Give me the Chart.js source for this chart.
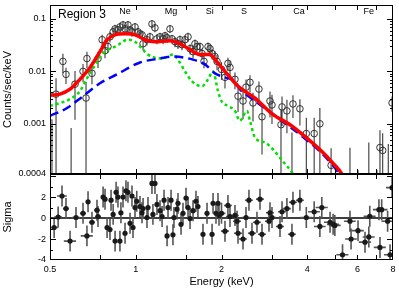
<!DOCTYPE html>
<html>
<head>
<meta charset="utf-8">
<script src="https://cdn.jsdelivr.net/npm/chart.js@4.4.1/dist/chart.umd.min.js"></script>
<style>
  html, body { margin: 0; padding: 0; background: #fff; }
  #wrap { position: relative; width: 399px; height: 291px; overflow: hidden; }
  canvas { position: absolute; left: 0; }
  #spec { top: 0; }
  #resid { top: 164px; }
</style>
</head>
<body>
<div id="wrap">
  <canvas id="spec" width="399" height="186"></canvas>
  <canvas id="resid" width="399" height="127"></canvas>
</div>
<script>
// ---- spectrum (upper panel): bin energy (keV), rate (counts/s/keV), 1-sigma error
const energy = [
  0.508, 0.525, 0.555, 0.569, 0.593, 0.612, 0.653, 0.669, 0.674, 0.702,
  0.737, 0.762, 0.780, 0.799, 0.812, 0.833, 0.846, 0.866, 0.880, 0.902,
  0.917, 0.939, 0.955, 0.970, 0.994, 1.018, 1.035, 1.052, 1.061, 1.095,
  1.122, 1.140, 1.168, 1.187, 1.217, 1.247, 1.267, 1.288, 1.319, 1.341,
  1.373, 1.407, 1.430, 1.453, 1.489, 1.526, 1.551, 1.589, 1.614, 1.640,
  1.681, 1.709, 1.736, 1.794, 1.823, 1.853, 1.898, 1.929, 2.000, 2.057,
  2.107, 2.142, 2.230, 2.286, 2.380, 2.438, 2.518, 2.580, 2.707, 2.775,
  2.960, 3.008, 3.235, 3.262, 3.394, 3.535, 3.564, 3.77, 3.97, 4.23,
  4.43, 4.85, 5.65, 6.03, 6.58, 7.03, 7.20, 7.36, 7.70, 7.94
];
const rate = [
  0.00002, 0.00368, 0.0155, 0.00877, 0.00003, 0.0057, 0.0100, 0.0031, 0.0176, 0.00917,
  0.0176, 0.0402, 0.0249, 0.0297, 0.0457, 0.0569, 0.0648, 0.0620, 0.0706, 0.0770,
  0.0648, 0.0770, 0.0620, 0.0569, 0.0706, 0.0569, 0.0521, 0.0499, 0.0337, 0.0402,
  0.0457, 0.0805, 0.0677, 0.0419, 0.0457, 0.0419, 0.0478, 0.0438, 0.0648, 0.0419,
  0.0368, 0.0337, 0.0402, 0.0323, 0.0402, 0.0457, 0.0271, 0.0238, 0.0337, 0.0297,
  0.0297, 0.0219, 0.0155, 0.0297, 0.0271, 0.0219, 0.0192, 0.0155, 0.0109, 0.0077,
  0.0142, 0.0119, 0.00706, 0.00337, 0.00272, 0.0050, 0.0062, 0.0025, 0.0046, 0.00136,
  0.00272, 0.00229, 0.00096, 0.0021, 0.00176, 0.00003, 0.00239, 0.00193, 0.00065, 0.00065,
  0.0010, 0.000161, 0.00001, 0.00001, 0.00001, 0.00001, 0.000352, 0.00031, 0.00001, 0.0025
];
const rateErr = [
  0.0012, 0.0037, 0.0062, 0.003, 0.0008, 0.0045, 0.0038, 0.0032, 0.006, 0.0035,
  0.006, 0.010, 0.007, 0.007, 0.010, 0.012, 0.013, 0.012, 0.014, 0.015,
  0.013, 0.015, 0.012, 0.011, 0.013, 0.011, 0.010, 0.010, 0.008, 0.009,
  0.009, 0.014, 0.012, 0.009, 0.009, 0.009, 0.009, 0.009, 0.011, 0.008,
  0.008, 0.007, 0.008, 0.007, 0.008, 0.009, 0.006, 0.006, 0.007, 0.006,
  0.006, 0.005, 0.004, 0.006, 0.006, 0.005, 0.005, 0.005, 0.004, 0.003,
  0.004, 0.004, 0.0025, 0.0017, 0.0015, 0.002, 0.0022, 0.0014, 0.0018, 0.0011,
  0.0014, 0.0013, 0.0009, 0.0012, 0.0011, 0.00065, 0.0011, 0.0010, 0.00066, 0.00066,
  0.0010, 0.00018, 0.00034, 0.00012, 0.00043, 0.00012, 0.0004, 0.00035, 0.0004, 0.0008
];

// ---- model curves
const totalE = [0.5, 0.542, 0.588, 0.637, 0.691, 0.749, 0.793, 0.846, 0.917, 0.994,
  1.078, 1.168, 1.319, 1.430, 1.551, 1.681, 1.823, 1.898, 2.057, 2.286,
  2.622, 3.008, 3.48, 3.93, 4.54, 4.93, 5.30, 5.6];
const totalRate = [0.00352, 0.00368, 0.00457, 0.00706, 0.0119, 0.0238, 0.0402, 0.0499, 0.0521, 0.0499,
  0.0402, 0.0368, 0.0385, 0.0337, 0.026, 0.0209, 0.0209, 0.0168, 0.0100, 0.00521,
  0.0031, 0.00155, 0.00096, 0.00057, 0.000284, 0.000176, 0.000109, 0.00006];

const compBE = [0.5, 0.574, 0.653, 0.749, 0.859, 1.035, 1.217, 1.351, 1.589, 1.75,
  1.898, 2.057, 2.23, 2.32, 2.48, 3.008, 3.93, 4.54, 5.21, 5.5];
const compBRate = [0.00142, 0.0020, 0.00337, 0.00594, 0.00877, 0.0148, 0.0176, 0.0192, 0.0168, 0.0136,
  0.00917, 0.0077, 0.00647, 0.00457, 0.0034, 0.00158, 0.00052, 0.00026, 0.000105, 0.00006];

const compAE = [0.5, 0.588, 0.637, 0.674, 0.708, 0.767, 0.859, 0.939, 0.994, 1.052,
  1.104, 1.236, 1.351, 1.407, 1.489, 1.576, 1.709, 1.794, 1.867, 1.944,
  2.0, 2.108, 2.23, 2.32, 2.457, 2.518, 2.622, 2.843, 3.008, 3.262,
  3.565, 3.75];
const compARate = [0.00219, 0.00297, 0.0042, 0.00738, 0.0114, 0.0219, 0.031, 0.0402, 0.0368, 0.0272,
  0.0209, 0.0176, 0.0209, 0.0168, 0.0100, 0.00647, 0.00521, 0.00706, 0.0100, 0.0042,
  0.00272, 0.00219, 0.00176, 0.00114, 0.00176, 0.00114, 0.000545, 0.000439, 0.00034, 0.0002,
  0.000109, 0.00006];

// ---- residuals (lower panel): energy, sigma, bin half width (keV)
const resE = [
  0.517, 0.534, 0.551, 0.569, 0.588, 0.617, 0.653, 0.674, 0.680, 0.702,
  0.731, 0.737, 0.768, 0.780, 0.793, 0.812, 0.819, 0.833, 0.846, 0.853,
  0.866, 0.880, 0.887, 0.902, 0.917, 0.924, 0.939, 0.955, 0.970, 0.978,
  0.994, 1.008, 1.035, 1.052, 1.061, 1.095, 1.104, 1.140, 1.149, 1.168,
  1.187, 1.217, 1.237, 1.257, 1.288, 1.298, 1.330, 1.351, 1.362, 1.396,
  1.407, 1.442, 1.465, 1.501, 1.526, 1.551, 1.589, 1.627, 1.653, 1.722,
  1.779, 1.853, 1.868, 1.913, 1.944, 1.960, 2.000, 2.057, 2.107, 2.142,
  2.230, 2.268, 2.286, 2.380, 2.438, 2.497, 2.559, 2.664, 2.730, 2.775,
  2.936, 2.960, 3.008, 3.209, 3.262, 3.394, 3.535, 3.564, 3.77, 3.97,
  4.23, 4.43, 4.50, 4.81, 4.93, 5.00, 5.32, 5.65, 5.70, 6.03,
  6.38, 6.58, 6.63, 7.14, 7.20, 7.30, 7.66, 7.81, 7.94
];
const resSigma = [
  -0.9, 0.1, 2.1, 0.9, -2.2, 0.05, 0.45, -1.7, 1.55, -0.4,
  0.75, 0.15, 2.0, 1.8, -0.9, -1.1, 1.7, 0.35, -2.2, 2.45,
  2.0, -2.2, 0.5, 2.0, -1.45, 2.6, 2.45, -0.5, 2.1, -0.9,
  1.0, 1.6, 1.1, 0.5, 0.9, 0.05, 1.0, 3.3, 0.35, 3.3,
  1.3, 0.7, 0.15, 1.7, -1.7, 1.0, 1.7, -1.6, 0.05, 0.85,
  1.4, -0.6, 0.45, 1.9, 1.0, -0.05, 0.7, 1.6, 1.1, -1.55,
  0.45, -1.55, 1.4, 0.45, 1.4, 0.26, 0.45, -1.25, 1.2, 0.15,
  0.25, -0.3, -1.45, -2.0, 0.05, 1.7, -1.45, -0.4, 1.8, -1.55,
  -0.3, 0.5, 0.05, -0.8, 0.6, 0.9, -1.55, 1.5, 1.7, 0.05,
  0.6, -0.8, 1.0, -0.4, -0.6, -0.7, -3.5, -0.3, -2.0, -1.2,
  -2.3, -1.8, 0.17, 0.8, -2.8, 0.8, -0.3, -3.5, 2.9
];
const resHalf = [
  0.017, 0.017, 0.022, 0.014, 0.029, 0.020, 0.016, 0.033, 0.011, 0.017,
  0.018, 0.018, 0.012, 0.012, 0.013, 0.013, 0.013, 0.013, 0.014, 0.014,
  0.014, 0.014, 0.014, 0.014, 0.015, 0.015, 0.015, 0.015, 0.016, 0.016,
  0.016, 0.016, 0.017, 0.017, 0.017, 0.018, 0.018, 0.018, 0.018, 0.019,
  0.019, 0.019, 0.020, 0.020, 0.021, 0.021, 0.021, 0.022, 0.022, 0.022,
  0.023, 0.023, 0.023, 0.024, 0.024, 0.025, 0.025, 0.026, 0.026, 0.028,
  0.028, 0.030, 0.030, 0.031, 0.031, 0.031, 0.064, 0.066, 0.067, 0.069,
  0.071, 0.073, 0.073, 0.076, 0.078, 0.080, 0.082, 0.085, 0.087, 0.089,
  0.094, 0.095, 0.096, 0.103, 0.104, 0.109, 0.113, 0.114, 0.121, 0.19,
  0.20, 0.21, 0.22, 0.23, 0.24, 0.24, 0.26, 0.27, 0.27, 0.29,
  0.31, 0.32, 0.32, 0.34, 0.35, 0.35, 0.37, 0.37, 0.38
];
const resErr = 1;

// ---- axes and labels
const energyTicks = [0.5, 1, 2, 4, 6, 8];
const energyMarks = [0.75, 1, 1.5, 2, 3, 4, 5, 6, 7];
const countTicks = [1.1e-4, 0.001, 0.01, 0.1];
const countLabels = ['0.0004', '0.001', '0.01', '0.1'];
const sigmaTicks = [-4, -2, 0, 2];
const lineNames = ['Ne', 'Mg', 'Si', 'S', 'Ca', 'Fe'];
const lineEnergies = [0.917, 1.33, 1.82, 2.40, 3.74, 6.58];

const FONT = "'Liberation Sans', Arial, Helvetica, sans-serif";

const xy = (xs, ys) => xs.map((x, i) => ({ x: x, y: ys[i] }));

function fixWidth(w) {
  return (scale) => { scale.width = w; scale.paddingTop = 0; scale.paddingBottom = 0; };
}

// inward tick marks + frame
function drawFrame(chart, yMajor, yMinor) {
  const { ctx, chartArea: a } = chart;
  const x = chart.scales.x, y = chart.scales.y;
  ctx.save();
  ctx.strokeStyle = '#000';
  ctx.lineWidth = 1;
  ctx.strokeRect(a.left + 0.5, a.top + 0.5, a.right - a.left - 1, a.bottom - a.top - 1);
  ctx.beginPath();
  energyMarks.forEach((v) => {
    const px = Math.round(x.getPixelForValue(v)) + 0.5;
    ctx.moveTo(px, a.bottom); ctx.lineTo(px, a.bottom - 5);
    ctx.moveTo(px, a.top); ctx.lineTo(px, a.top + 5);
  });
  const yMark = (v, len) => {
    const py = Math.round(y.getPixelForValue(v)) + 0.5;
    if (py < a.top + 2 || py > a.bottom - 1) return;
    ctx.moveTo(a.left, py); ctx.lineTo(a.left + len, py);
    ctx.moveTo(a.right, py); ctx.lineTo(a.right - len, py);
  };
  yMajor.forEach((v) => yMark(v, 6));
  yMinor.forEach((v) => yMark(v, 3));
  ctx.stroke();
  ctx.restore();
}

const specPlugin = {
  id: 'specExtras',
  beforeDatasetsDraw(chart) {
    const { ctx, chartArea: a } = chart;
    const x = chart.scales.x, y = chart.scales.y;
    ctx.save();
    ctx.beginPath();
    ctx.rect(a.left, a.top, a.right - a.left, a.bottom - a.top);
    ctx.clip();
    ctx.strokeStyle = '#3a3a3a';
    ctx.lineWidth = 1.1;
    ctx.beginPath();
    energy.forEach((e, i) => {
      const px = x.getPixelForValue(e);
      const lo = rate[i] - rateErr[i];
      const pLo = lo > 0 ? y.getPixelForValue(lo) : a.bottom + 2;
      const pHi = y.getPixelForValue(rate[i] + rateErr[i]);
      ctx.moveTo(px, pLo); ctx.lineTo(px, pHi);
    });
    ctx.stroke();
    ctx.restore();
  },
  afterDraw(chart) {
    const { ctx, chartArea: a } = chart;
    const x = chart.scales.x;
    const minor = [];
    [1e-4, 1e-3, 1e-2, 1e-1].forEach((d) => {
      for (let m = 2; m <= 9; m++) minor.push(d * m);
    });
    drawFrame(chart, [0.001, 0.01, 0.1], minor);
    ctx.save();
    ctx.fillStyle = '#000';
    ctx.font = '12px ' + FONT;
    ctx.textAlign = 'left';
    ctx.textBaseline = 'alphabetic';
    ctx.fillText('Region 3', a.left + 8, 18);
    ctx.font = '9px ' + FONT;
    ctx.textAlign = 'center';
    lineNames.forEach((n, i) => ctx.fillText(n, x.getPixelForValue(lineEnergies[i]), 14));
    ctx.restore();
  }
};

const residPlugin = {
  id: 'residExtras',
  beforeDatasetsDraw(chart) {
    const { ctx, chartArea: a } = chart;
    const x = chart.scales.x, y = chart.scales.y;
    ctx.save();
    ctx.beginPath();
    ctx.rect(a.left, a.top, a.right - a.left, a.bottom - a.top);
    ctx.clip();
    // zero line
    const y0 = y.getPixelForValue(0);
    ctx.strokeStyle = '#000';
    ctx.lineWidth = 1.5;
    ctx.beginPath();
    ctx.moveTo(a.left, y0); ctx.lineTo(a.right, y0);
    ctx.stroke();
    ctx.strokeStyle = '#555';
    ctx.lineWidth = 1.6;
    ctx.beginPath();
    resE.forEach((e, i) => {
      const px = x.getPixelForValue(e);
      const py = y.getPixelForValue(resSigma[i]);
      ctx.moveTo(px, y.getPixelForValue(resSigma[i] - resErr));
      ctx.lineTo(px, y.getPixelForValue(resSigma[i] + resErr));
      ctx.moveTo(x.getPixelForValue(e - resHalf[i]), py);
      ctx.lineTo(x.getPixelForValue(e + resHalf[i]), py);
    });
    ctx.stroke();
    ctx.restore();
  },
  afterDraw(chart) {
    drawFrame(chart, [-4, -2, 0, 2, 4], [-3, -1, 1, 3]);
  }
};

const tickFont = { family: FONT, size: 9 };
const titleFont = { family: FONT, size: 11 };

new Chart(document.getElementById('spec'), {
  type: 'scatter',
  data: {
    datasets: [
      { type: 'line', data: xy(totalE, totalRate), borderColor: '#ff0000', borderWidth: 3.5,
        pointRadius: 0, cubicInterpolationMode: 'monotone', order: 0 },
      { type: 'line', data: xy(compBE, compBRate), borderColor: '#0000ff', borderWidth: 2.5,
        borderDash: [9, 5], pointRadius: 0, cubicInterpolationMode: 'monotone', order: 1 },
      { type: 'line', data: xy(compAE, compARate), borderColor: '#00e000', borderWidth: 2.5,
        borderDash: [3, 3], pointRadius: 0, cubicInterpolationMode: 'monotone', order: 2 },
      { data: xy(energy, rate), pointRadius: 3.3, pointBorderWidth: 1,
        pointBorderColor: '#333', pointBackgroundColor: 'rgba(0,0,0,0)', order: 3 }
    ]
  },
  options: {
    responsive: false,
    animation: false,
    events: [],
    layout: { padding: { top: 3, right: 6, bottom: 12, left: 0 } },
    plugins: { legend: { display: false }, tooltip: { enabled: false } },
    scales: {
      x: { type: 'logarithmic', min: 0.5, max: 8, display: false },
      y: {
        type: 'logarithmic', min: 1.1e-4, max: 0.185,
        grid: { display: false, drawTicks: false }, border: { display: false },
        afterBuildTicks: (s) => { s.ticks = countTicks.map((v) => ({ value: v })); },
        afterFit: fixWidth(50),
        ticks: { font: tickFont, color: '#000', padding: 4, autoSkip: false,
          callback: (v, i) => countLabels[i] },
        title: { display: true, text: 'Counts/sec/keV', color: '#000', font: titleFont,
          padding: { top: 1, bottom: 0 } }
      }
    }
  },
  plugins: [specPlugin]
});

new Chart(document.getElementById('resid'), {
  type: 'scatter',
  data: {
    datasets: [
      { data: xy(resE, resSigma), pointRadius: 2.6, pointBorderWidth: 0,
        pointBackgroundColor: '#1a1a1a' }
    ]
  },
  options: {
    responsive: false,
    animation: false,
    events: [],
    layout: { padding: { top: 10, right: 6, bottom: 0, left: 0 } },
    plugins: { legend: { display: false }, tooltip: { enabled: false } },
    scales: {
      x: {
        type: 'logarithmic', min: 0.5, max: 8,
        grid: { display: false, drawTicks: false }, border: { display: false },
        afterBuildTicks: (s) => { s.ticks = energyTicks.map((v) => ({ value: v })); },
        afterFit: (s) => { s.height = 31; s.paddingLeft = 0; s.paddingRight = 0; },
        ticks: { font: tickFont, color: '#000', padding: 4, autoSkip: false, maxRotation: 0,
          callback: (v) => String(v) },
        title: { display: true, text: 'Energy (keV)', color: '#000', font: titleFont,
          padding: { top: 0, bottom: 2 } }
      },
      y: {
        min: -4, max: 4.2,
        grid: { display: false, drawTicks: false }, border: { display: false },
        afterBuildTicks: (s) => { s.ticks = sigmaTicks.map((v) => ({ value: v })); },
        afterFit: fixWidth(50),
        ticks: { font: tickFont, color: '#000', padding: 4, autoSkip: false },
        title: { display: true, text: 'Sigma', color: '#000', font: titleFont,
          padding: { top: 1, bottom: 0 } }
      }
    }
  },
  plugins: [residPlugin]
});
</script>
</body>
</html>
